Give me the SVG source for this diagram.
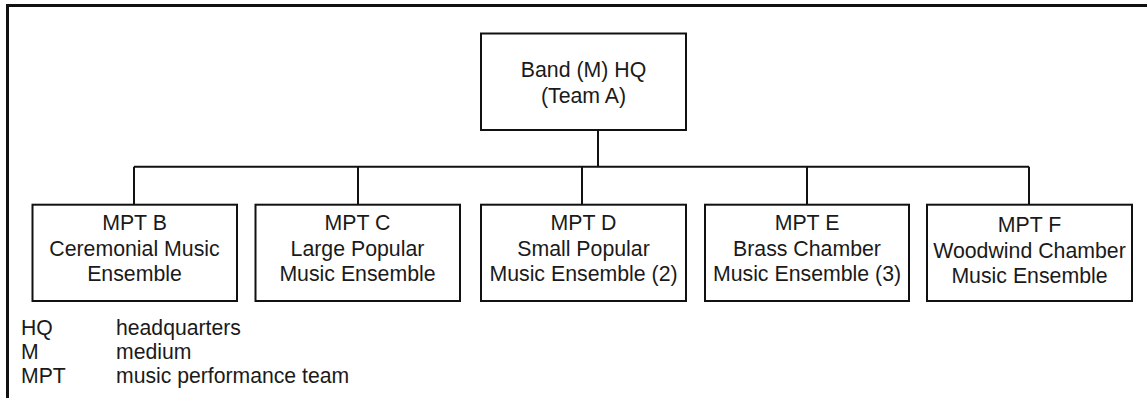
<svg xmlns="http://www.w3.org/2000/svg" width="1147" height="398" viewBox="0 0 1147 398">
<style>
.box{fill:#fff;stroke:#111;stroke-width:2}
.t{font-family:"Liberation Sans",Arial,sans-serif;font-size:21.3px;fill:#1a1a1a;text-anchor:middle}
.l{font-family:"Liberation Sans",Arial,sans-serif;font-size:21.2px;fill:#1a1a1a}
.c{fill:none;stroke:#111;stroke-width:2}
</style>
<rect x="0" y="0" width="1147" height="398" fill="#fff"/>
<rect x="7.5" y="5.5" width="1160" height="420" fill="none" stroke="#111" stroke-width="3"/>
<g id="connectors">
<path class="c" d="M598 130V166.7M134 166.7H1029M134 166.7V204.7M358 166.7V204.7M582 166.7V204.7M807 166.7V204.7M1029 166.7V204.7"/>
</g>
<g id="hq">
<rect class="box" x="481" y="33.5" width="205" height="96.5"/>
<text class="t" x="583.5" y="77">Band (M) HQ</text>
<text class="t" x="583.5" y="103">(Team A)</text>
</g>
<g id="mptB">
<rect class="box" x="32.5" y="204.7" width="204.5" height="96.3"/>
<text class="t" x="134.5" y="230">MPT B</text>
<text class="t" x="134.5" y="255.5">Ceremonial Music</text>
<text class="t" x="134.5" y="281">Ensemble</text>
</g>
<g id="mptC">
<rect class="box" x="255.5" y="204.7" width="204.5" height="96.3"/>
<text class="t" x="357.5" y="230">MPT C</text>
<text class="t" x="357.5" y="255.5">Large Popular</text>
<text class="t" x="357.5" y="281">Music Ensemble</text>
</g>
<g id="mptD">
<rect class="box" x="481" y="204.7" width="205" height="96.3"/>
<text class="t" x="583.5" y="230">MPT D</text>
<text class="t" x="583.5" y="255.5">Small Popular</text>
<text class="t" x="583.5" y="281">Music Ensemble (2)</text>
</g>
<g id="mptE">
<rect class="box" x="705" y="204.7" width="204" height="96.3"/>
<text class="t" x="807" y="230">MPT E</text>
<text class="t" x="807" y="255.5">Brass Chamber</text>
<text class="t" x="807" y="281">Music Ensemble (3)</text>
</g>
<g id="mptF">
<rect class="box" x="927" y="204.7" width="205" height="96.3"/>
<text class="t" x="1029.5" y="232">MPT F</text>
<text class="t" x="1029.5" y="257.5">Woodwind Chamber</text>
<text class="t" x="1029.5" y="283">Music Ensemble</text>
</g>
<g id="legend">
<text class="l" x="21" y="335">HQ</text>
<text class="l" x="116" y="335">headquarters</text>
<text class="l" x="21" y="359">M</text>
<text class="l" x="116" y="359">medium</text>
<text class="l" x="21" y="383">MPT</text>
<text class="l" x="116" y="383">music performance team</text>
</g>
</svg>
